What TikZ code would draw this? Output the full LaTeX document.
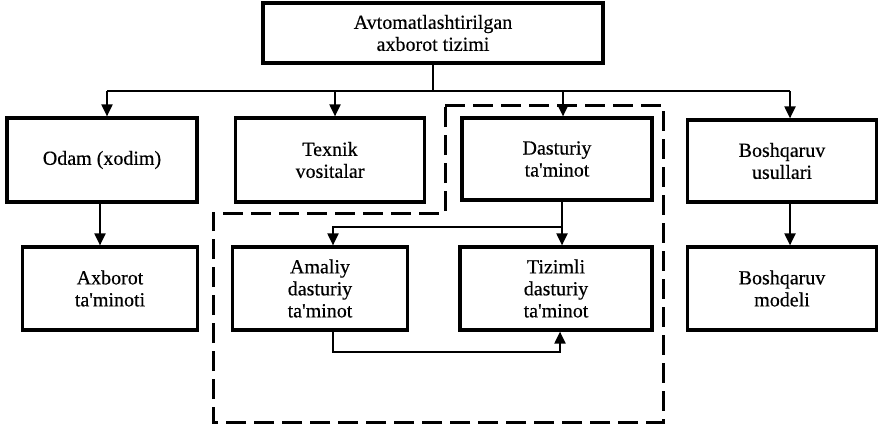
\documentclass[tikz,border=0pt]{standalone}
\usepackage{fontspec}
\setmainfont{Liberation Serif}
\newfontfamily\boxfont{Liberation Serif}[FakeBold=0.4]
\usetikzlibrary{arrows.meta}
\newcommand{\apos}{\textquotesingle}
\begin{document}
\begin{tikzpicture}[x=1pt,y=-1pt,
  box/.style={draw,line width=3.2pt,align=center,inner sep=2pt,
    font=\boxfont\fontsize{20}{22}\selectfont},
  link/.style={line width=2pt,-{Triangle[length=12pt,width=11pt]}},
  wire/.style={line width=2pt},
  group/.style={line width=3pt,dash pattern=on 20pt off 8pt}]
\useasboundingbox (0,0) rectangle (885,426);

% boxes
\node[box,minimum width=340pt,minimum height=60pt] (ais) at (433,33)
  {Avtomatlashtirilgan\\axborot tizimi};
\node[box,minimum width=190pt,minimum height=84pt] (odam) at (102,160) {Odam (xodim)};
\node[box,minimum width=189pt,minimum height=84pt] (tex) at (330,160) {Texnik\\vositalar};
\node[box,minimum width=190pt,minimum height=82pt] (dast) at (557,159) {Dasturiy\\ta\apos minot};
\node[box,minimum width=189pt,minimum height=82pt] (bush) at (782,161) {Boshqaruv\\usullari};
\node[box,minimum width=175pt,minimum height=83pt] (axb) at (110,288.5) {Axborot\\ta\apos minoti};
\node[box,minimum width=175pt,minimum height=83pt] (amal) at (320,288.5) {Amaliy\\dasturiy\\ta\apos minot};
\node[box,minimum width=192pt,minimum height=83pt] (tiz) at (556,288.5) {Tizimli\\dasturiy\\ta\apos minot};
\node[box,minimum width=189pt,minimum height=83pt] (bmod) at (782,288.5) {Boshqaruv\\modeli};

% software group outline
\draw[group] (445,105) -- (663,105) -- (663,422) -- (213,422) -- (213,213) -- (445,213) -- cycle;

% distribution bus from the top box
\coordinate (bus) at (434,91);
\draw[wire] (ais.south) -- (ais.south |- bus);
\draw[wire] ([xshift=5pt]odam.north |- bus) -- ([xshift=8pt]bush.north |- bus);
\draw[link] ([xshift=5pt]odam.north |- bus) -- ([xshift=5pt]odam.north);
\draw[link] ([xshift=5pt]tex.north |- bus) -- ([xshift=5pt]tex.north);
\draw[link] ([xshift=6pt]dast.north |- bus) -- ([xshift=6pt]dast.north);
\draw[link] ([xshift=8pt]bush.north |- bus) -- ([xshift=8pt]bush.north);

% second level
\draw[link] ([xshift=-2pt]odam.south) -- ([xshift=-2pt]odam.south |- axb.north);
\draw[link] ([xshift=8pt]bush.south) -- ([xshift=8pt]bush.south |- bmod.north);
\coordinate (split) at ([xshift=5pt]dast.south |- 0,227);
\draw[link] ([xshift=5pt]dast.south) -- ([xshift=5pt]dast.south |- tiz.north);
\draw[link] (split) -| ([xshift=13pt]amal.north);
\coordinate (low) at ([xshift=13pt]amal.south |- 0,352);
\draw[link] ([xshift=13pt]amal.south) -- (low) -| ([xshift=4pt]tiz.south);
\end{tikzpicture}
\end{document}
